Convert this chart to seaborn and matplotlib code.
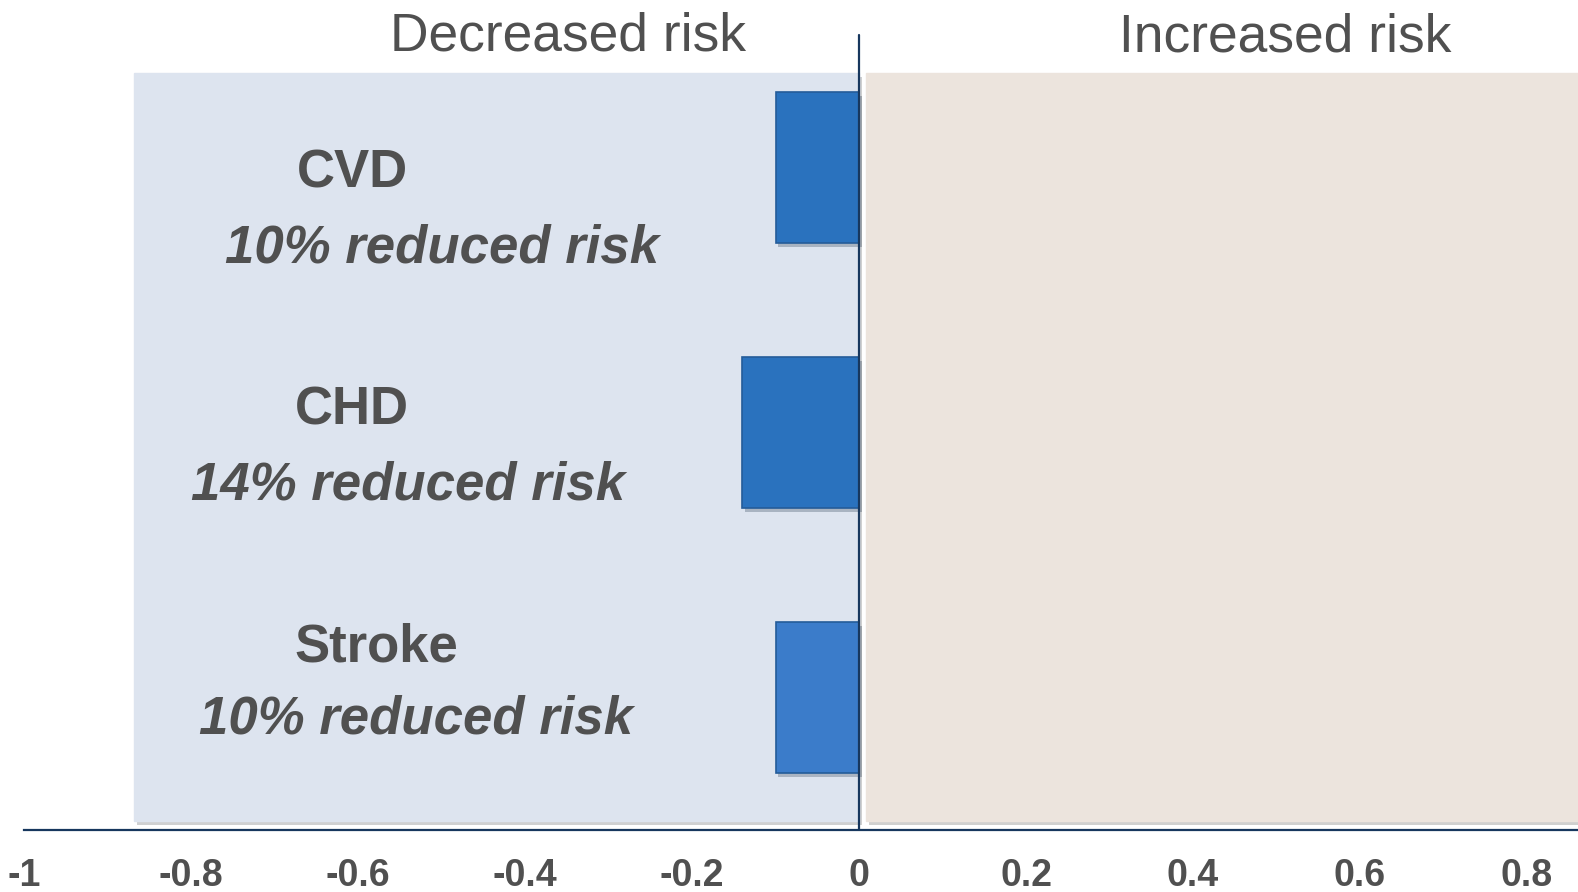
import matplotlib
matplotlib.use("Agg")
import matplotlib.pyplot as plt
import matplotlib.patheffects as pe
import seaborn as sns
import pandas as pd

# Outcome categories and change in risk (fraction)
outcomes = ["CVD", "CHD", "Stroke"]
risk_change = [-0.10, -0.14, -0.10]
subtitles = ["10% reduced risk", "14% reduced risk", "10% reduced risk"]
bar_colors = ["#2A72BE", "#2A72BE", "#3B7CCA"]

tick_values = [-1, -0.8, -0.6, -0.4, -0.2, 0, 0.2, 0.4, 0.6, 0.8]
tick_labels = ["-1", "-0.8", "-0.6", "-0.4", "-0.2", "0", "0.2", "0.4", "0.6", "0.8"]

header_left = "Decreased risk"
header_right = "Increased risk"

sns.set_theme(style="white")
plt.rcParams["font.family"] = ["Liberation Sans", "DejaVu Sans"]

TEXT = "#505050"
NAVY = "#17375E"

W, H = 1578, 892
fig = plt.figure(figsize=(W / 100, H / 100), dpi=100)
ax = fig.add_axes([24 / W, (H - 830) / H, (W - 24) / W, 830 / H])

df = pd.DataFrame({"outcome": outcomes, "change": risk_change})

# Shaded zones for decreased / increased risk
ax.axvspan(-0.868, 0, ymin=0.011, ymax=0.912, color="#DDE4EF", zorder=0,
           path_effects=[pe.SimplePatchShadow(offset=(-1, -1), alpha=0.12), pe.Normal()])
ax.axvspan(0.0084, 1.0, ymin=0.011, ymax=0.912, color="#ECE4DD", zorder=0,
           path_effects=[pe.SimplePatchShadow(offset=(-1, -1), alpha=0.12), pe.Normal()])

sns.barplot(data=df, x="change", y="outcome", hue="outcome", palette=bar_colors,
            saturation=1, orient="h", width=0.57, legend=False, ax=ax, zorder=3,
            edgecolor="#245C99", linewidth=1.2)
for patch in ax.patches:
    patch.set_path_effects([pe.SimplePatchShadow(offset=(2, -3), alpha=0.25), pe.Normal()])

ax.set_xlim(-1, (W - 859) / 835)
ax.set_ylim(2.5, -0.632)

# Zero reference line and baseline axis
ax.axvline(0, ymin=0, ymax=(830 - 35) / 830, color=NAVY, lw=1.6, zorder=4)
for side in ["top", "right", "left"]:
    ax.spines[side].set_visible(False)
ax.spines["bottom"].set_color(NAVY)
ax.spines["bottom"].set_linewidth(1.6)

ax.set_xticks(tick_values)
ax.set_xticklabels(tick_labels, fontsize=27, fontweight="bold", color=TEXT)
ax.tick_params(axis="x", length=0, pad=20)
ax.set_yticks([])
ax.set_xlabel("")
ax.set_ylabel("")

# Category labels inside the decreased-risk zone
name_x = [-0.607, -0.607, -0.578]
name_dy = [0.074, -0.032, -0.134]
sub_x = [-0.499, -0.540, -0.531]
sub_dy = [0.36, 0.251, 0.134]
for i, (name, sub) in enumerate(zip(outcomes, subtitles)):
    ax.text(name_x[i], i + name_dy[i], name, ha="center", va="baseline",
            fontsize=38, fontweight="bold", color=TEXT, zorder=5)
    ax.text(sub_x[i], i + sub_dy[i], sub, ha="center", va="baseline",
            fontsize=38, fontweight="bold", fontstyle="italic", color=TEXT, zorder=5)

ax.text(-0.349, -0.443, header_left, ha="center", va="baseline",
        fontsize=38.4, color=TEXT, clip_on=False)
ax.text(0.511, -0.436, header_right, ha="center", va="baseline",
        fontsize=38.4, color=TEXT, clip_on=False)

fig.savefig("out.png", dpi=100)
